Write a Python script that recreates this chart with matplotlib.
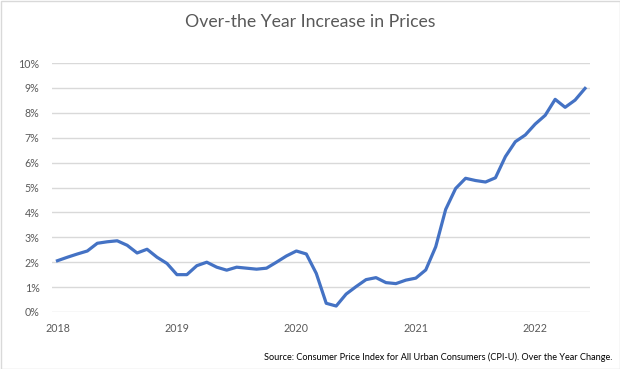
import matplotlib
matplotlib.use("Agg")
import matplotlib.pyplot as plt
from matplotlib.patches import Rectangle
from matplotlib.ticker import FuncFormatter

# monthly over-the-year % change, Jan 2018 .. Jun 2022
cpi_2018 = [2.06, 2.2, 2.33, 2.45, 2.76, 2.82, 2.86, 2.68, 2.37, 2.52, 2.2, 1.95]
cpi_2019 = [1.5, 1.5, 1.86, 2.0, 1.8, 1.68, 1.8, 1.76, 1.72, 1.76, 2.0, 2.25]
cpi_2020 = [2.45, 2.33, 1.55, 0.35, 0.24, 0.72, 1.02, 1.3, 1.38, 1.18, 1.14, 1.28]
cpi_2021 = [1.36, 1.69, 2.62, 4.12, 4.96, 5.37, 5.28, 5.22, 5.39, 6.24, 6.84, 7.11]
cpi_2022 = [7.55, 7.9, 8.54, 8.22, 8.51, 8.98]
values = cpi_2018 + cpi_2019 + cpi_2020 + cpi_2021 + cpi_2022
months = list(range(len(values)))
year_labels = ["2018", "2019", "2020", "2021", "2022"]

plt.rcParams['font.family'] = ['Lato', 'DejaVu Sans']

fig = plt.figure(figsize=(6.2, 3.69), dpi=100)
ax = fig.add_axes([52/620, 1-312/369, (590-52)/620, (312-63)/369])

ax.plot(months, values, color='#4472C4', linewidth=2.3, solid_joinstyle='round')

ax.set_xlim(-0.55, 53.5)
ax.set_ylim(0, 10)
ax.set_yticks(range(0, 11))
ax.yaxis.set_major_formatter(FuncFormatter(lambda v, p: "%d%%" % v))
ax.set_xticks([0, 12, 24, 36, 48])
ax.set_xticklabels(year_labels)
ax.grid(axis='y', color='#D9D9D9', linewidth=1)
ax.set_axisbelow(True)
for s in ['top', 'right', 'left', 'bottom']:
    ax.spines[s].set_visible(False)
ax.tick_params(length=0, labelsize=7.7, labelcolor='#595959')
ax.tick_params(axis='y', pad=9)
ax.tick_params(axis='x', pad=8)

fig.text(0.5, 1-22/369, "Over-the Year Increase in Prices", ha='center', va='center',
         fontsize=12.7, color='#595959')
fig.text(612/620, 1-357/369,
         "Source: Consumer Price Index for All Urban Consumers (CPI-U). Over the Year Change.",
         ha='right', va='center', fontsize=6.6, color='black')

fig.patches.append(Rectangle((0.5/620, 0.5/369), 1-1/620, 1-1/369, transform=fig.transFigure,
                             fill=False, edgecolor='#D9D9D9', linewidth=1))

fig.savefig("out.png", dpi=100, facecolor='white')
